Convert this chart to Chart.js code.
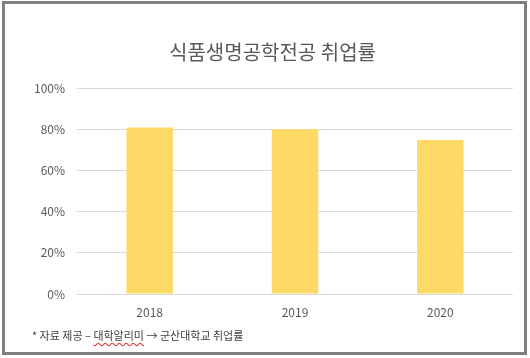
<!DOCTYPE html>
<html>
<head>
<meta charset="utf-8">
<script src="https://cdn.jsdelivr.net/npm/chart.js@4"></script>
<style>
  body { margin: 0; background: #fff; }
  #frame {
    position: absolute; left: 2px; top: 1px;
    width: 525px; height: 354px;
    box-sizing: border-box;
    border: 3px solid #7f7f7f;
    background: #fff;
  }
  #box { position: absolute; left: 0; top: 0; width: 519px; height: 348px; }
  #note {
    position: absolute; left: 27px; top: 323px;
    font-family: 'Noto Sans CJK KR', 'Noto Sans', sans-serif;
    font-size: 11px; color: #404040; white-space: nowrap;
  }
  #note .sp { text-decoration: underline wavy #e03030; text-underline-offset: 2px; }
</style>
</head>
<body>
<div id="frame">
  <div id="box"><canvas id="graf"></canvas></div>
  <div id="note">* 자료 제공 – <span class="sp">대학알리미</span> → 군산대학교 취업률</div>
</div>
<script>
const anos = ['2018', '2019', '2020']
const taxa = [80.8, 80.0, 74.8]
const ticksY = [0, 20, 40, 60, 80, 100]

const graf = document.getElementById('graf')
const fonte = "'Noto Sans CJK KR', 'Noto Sans', sans-serif"

new Chart(graf, {
    type: 'bar',
    data: {
        labels: anos,
        datasets: [{
            data: taxa,
            backgroundColor: '#FFD966',
            categoryPercentage: 1,
            barPercentage: 0.32
        }]
    },
    options: {
        responsive: true,
        maintainAspectRatio: false,
        animation: false,
        layout: { padding: { left: 27, right: 11, top: 0, bottom: 0 } },
        plugins: {
            legend: { display: false },
            tooltip: { enabled: false },
            title: {
                display: true,
                text: '식품생명공학전공 취업률',
                color: '#595959',
                font: { family: fonte, size: 20, weight: 'normal', lineHeight: 1.2 },
                padding: { top: 36, bottom: 24 }
            }
        },
        scales: {
            x: {
                grid: { display: false },
                border: { display: false },
                ticks: { color: '#595959', font: { family: fonte, size: 12 }, padding: 3 },
                afterFit: s => { s.height = 58 }
            },
            y: {
                min: 0,
                max: 100,
                afterBuildTicks: s => { s.ticks = ticksY.map(v => ({ value: v })) },
                grid: { color: '#d9d9d9', drawTicks: false },
                border: { display: false },
                ticks: {
                    color: '#595959',
                    font: { family: fonte, size: 12 },
                    padding: 12,
                    callback: v => v + '%'
                },
                afterFit: s => { s.width = 45 }
            }
        }
    }
})
</script>
</body>
</html>
